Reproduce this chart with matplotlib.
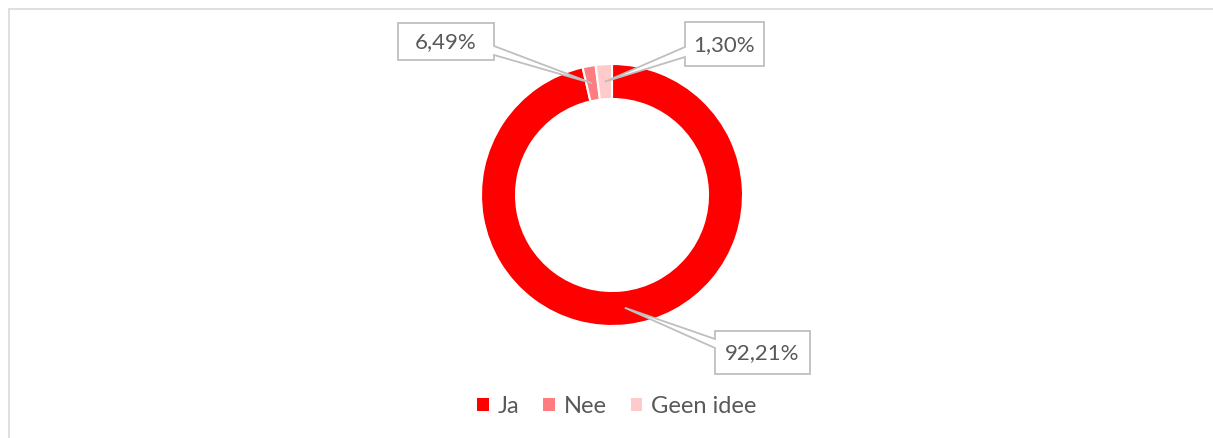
import numpy as np
import matplotlib
matplotlib.use("Agg")
import matplotlib.pyplot as plt
from matplotlib.patches import Polygon, Patch, Rectangle

# data
categories = ["Ja", "Nee", "Geen idee"]
label_texts = ["92,21%", "6,49%", "1,30%"]      # data labels as shown in the chart
slice_shares = [96.4, 1.6, 2.0]                 # ring shares as drawn in the picture
colors = ["#ff0000", "#ff7c80", "#ffcaca"]
explode = [0, 0.01, 0.02]

W, H = 1213, 439
text_col = "#595959"
line_col = "#bfbfbf"
plt.rcParams['font.family'] = ['Lato', 'DejaVu Sans']

fig = plt.figure(figsize=(W / 100, H / 100), dpi=100)
ax = fig.add_axes([0, 0, 1, 1])

cx, cy, r_out, ring = 612, H - 196, 131, 35
wedges, _ = ax.pie(slice_shares, colors=colors, startangle=90, counterclock=False,
                   center=(cx, cy), radius=r_out, explode=explode,
                   wedgeprops=dict(width=ring, edgecolor="white", linewidth=1.5))
ax.set_xlim(0, W)
ax.set_ylim(0, H)
ax.set_aspect("equal")
ax.axis("off")

# chart area border (only top and left visible)
ax.add_patch(Rectangle((8.5, -20), W + 40, H - 9.5 + 20, fill=False,
                       ec="#d9d9d9", lw=1.2, clip_on=False))


def callout(box, side, wy, tip, text):
    # box = (x0, y0, x1, y1) in pixel coords from top; wedge on the left or right edge
    x0, y0, x1, y1 = box
    if side == "left":
        pts = [(x0, y0), (x1, y0), (x1, y1), (x0, y1), (x0, wy[1]), tip, (x0, wy[0])]
    else:
        pts = [(x0, y0), (x1, y0), (x1, wy[0]), tip, (x1, wy[1]), (x1, y1), (x0, y1)]
    pts = [(px, H - py) for px, py in pts]
    ax.add_patch(Polygon(pts, closed=True, fc="white", ec=line_col, lw=1.3, zorder=5))
    ax.text((x0 + x1) / 2, H - (y0 + y1) / 2, text, ha="center", va="center",
            fontsize=16, color=text_col, zorder=6)


def tip_of(w):
    # middle of the ring at the wedge's middle angle
    ang = np.deg2rad((w.theta1 + w.theta2) / 2)
    rm = w.r - w.width / 2
    x = w.center[0] + rm * np.cos(ang)
    y = w.center[1] + rm * np.sin(ang)
    return (x, H - y)


callout((715, 332, 810, 375), "left", (340, 349), tip_of(wedges[0]), label_texts[0])
callout((398, 24, 494, 61), "right", (47, 56), tip_of(wedges[1]), label_texts[1])
callout((685, 23, 764, 67), "left", (48, 58), tip_of(wedges[2]), label_texts[2])

handles = [Patch(fc=c, ec="none") for c in colors]
fig.legend(handles, categories, loc="center", bbox_to_anchor=(617 / W, 1 - 407 / H),
           ncol=3, frameon=False, fontsize=17, labelcolor=text_col,
           handlelength=0.48, handleheight=0.48, handletextpad=0.4, columnspacing=1.0)

fig.savefig("out.png", dpi=100)
